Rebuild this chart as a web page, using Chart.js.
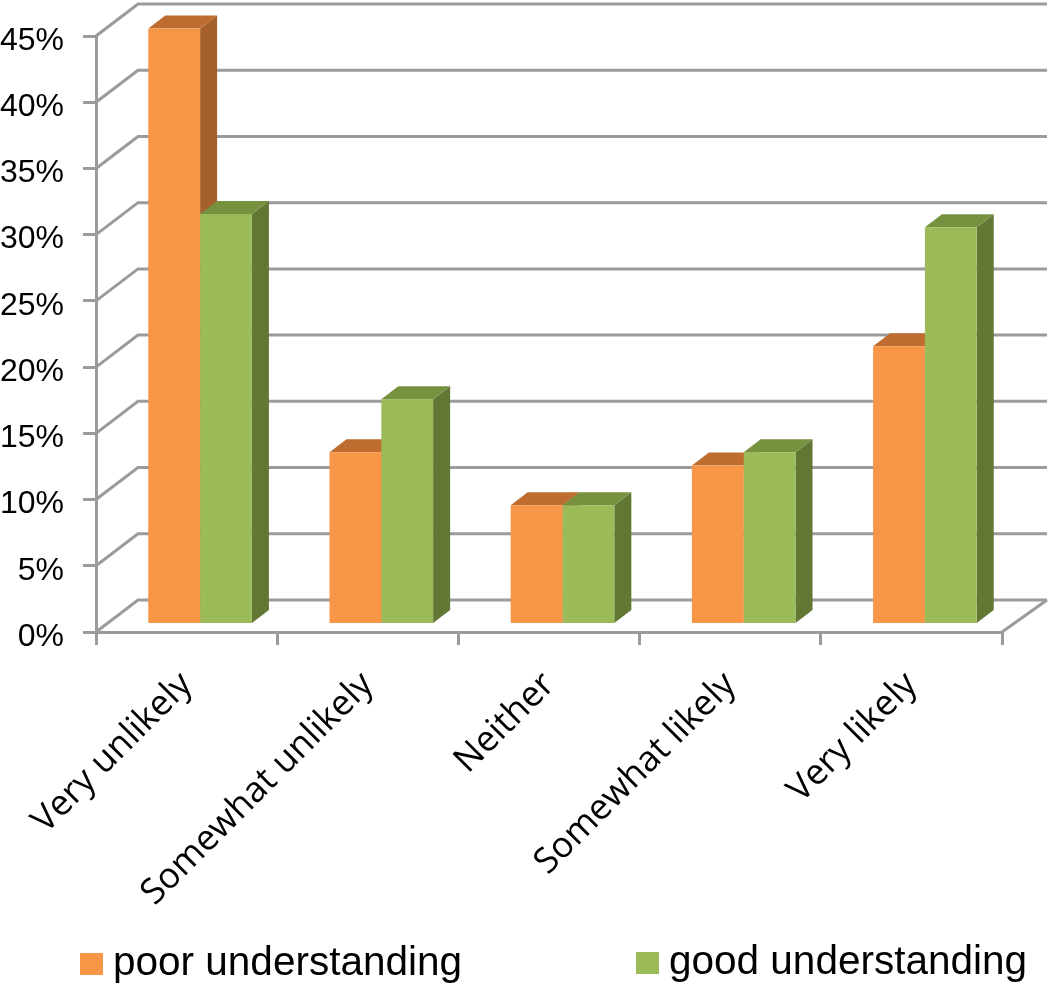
<!DOCTYPE html>
<html>
<head>
<meta charset="utf-8">
<style>html,body{margin:0;padding:0;background:#fff}canvas{display:block}</style>
<script src="https://cdn.jsdelivr.net/npm/chart.js@4"></script>
</head>
<body>
<canvas id="c" width="1050" height="985"></canvas>
<script>
const categories = ['Very unlikely','Somewhat unlikely','Neither','Somewhat likely','Very likely'];
const poorUnderstanding = [45,13,9,12,21];
const goodUnderstanding = [31,17,9,13,30];
const poorLabel = 'poor understanding';
const goodLabel = 'good understanding';

const GRID = '#9b9b9b';
const WALL = {dx:42, dy:-32};
const BAR_SHIFT = {dx:13.5, dy:-7.5};
const DEPTH = {dx:17, dy:-13};
const shades = [
  {front:'#F79646', top:'#BF6C30', side:'#A5602B'},
  {front:'#9BBB59', top:'#76923F', side:'#627734'}
];

const scene3d = {
  id:'scene3d',
  beforeDatasetsDraw(chart){
    const {ctx, scales:{x,y}} = chart;
    ctx.save();
    ctx.strokeStyle = GRID; ctx.lineWidth = 3; ctx.lineCap = 'butt'; ctx.lineJoin='miter';
    y.ticks.forEach(t=>{
      const py = y.getPixelForValue(t.value);
      ctx.beginPath();
      ctx.moveTo(x.left, py);
      ctx.lineTo(x.left+WALL.dx, py+WALL.dy);
      ctx.lineTo(x.right+WALL.dx+3, py+WALL.dy);
      ctx.stroke();
    });
    const y0 = y.getPixelForValue(0);
    ctx.beginPath();
    ctx.moveTo(x.right, y0);
    ctx.lineTo(x.right+WALL.dx+3, y0+WALL.dy);
    ctx.stroke();
    ctx.restore();

    ctx.save();
    ctx.translate(BAR_SHIFT.dx, BAR_SHIFT.dy);
    [0,1].forEach(di=>{
      const s = shades[di];
      chart.getDatasetMeta(di).data.forEach(b=>{
        const l=b.x-b.width/2, r=b.x+b.width/2, t=b.y, bt=b.base;
        ctx.fillStyle=s.side;
        ctx.beginPath();
        ctx.moveTo(r,t);ctx.lineTo(r+DEPTH.dx,t+DEPTH.dy);ctx.lineTo(r+DEPTH.dx,bt+DEPTH.dy);ctx.lineTo(r,bt);
        ctx.closePath();ctx.fill();
        ctx.fillStyle=s.top;
        ctx.beginPath();
        ctx.moveTo(l,t);ctx.lineTo(l+DEPTH.dx,t+DEPTH.dy);ctx.lineTo(r+DEPTH.dx,t+DEPTH.dy);ctx.lineTo(r,t);
        ctx.closePath();ctx.fill();
      });
    });
  },
  afterDatasetsDraw(chart){
    chart.ctx.restore();
  }
};

const legendItems = {
  id:'legendItems',
  afterDraw(chart){
    const {ctx} = chart;
    const at = [{bx:80,by:953,tx:113,ty:975},{bx:636,by:952,tx:669,ty:974}];
    ctx.save();
    ctx.font = '40.5px "Liberation Sans"';
    ctx.textBaseline='alphabetic';
    chart.data.datasets.forEach((d,i)=>{
      ctx.fillStyle=d.backgroundColor;
      ctx.fillRect(at[i].bx,at[i].by,23,22);
      ctx.fillStyle='#000';
      ctx.fillText(d.label,at[i].tx,at[i].ty);
    });
    ctx.restore();
  }
};

new Chart(document.getElementById('c'),{
  type:'bar',
  data:{
    labels:categories,
    datasets:[
      {label:poorLabel,data:poorUnderstanding,backgroundColor:shades[0].front,clip:false},
      {label:goodLabel,data:goodUnderstanding,backgroundColor:shades[1].front,clip:false}
    ]
  },
  options:{
    responsive:false,
    animation:false,
    devicePixelRatio:1,
    layout:{padding:{top:36,right:48,left:0,bottom:0}},
    datasets:{bar:{barPercentage:1,categoryPercentage:0.572,borderWidth:0}},
    plugins:{legend:{display:false},tooltip:{enabled:false},title:{display:false}},
    scales:{
      x:{
        afterFit(s){s.height=353;s.paddingLeft=0;s.paddingRight=0;},
        grid:{offset:true,drawOnChartArea:false,drawTicks:true,tickLength:13,color:GRID,lineWidth:3},
        border:{color:GRID,width:3},
        ticks:{
          autoSkip:false,minRotation:45,maxRotation:45,padding:19,color:'#000',
          font:{family:'"Open Sans"',size:35.5}
        }
      },
      y:{
        afterFit(s){s.width=96;s.paddingTop=0;s.paddingBottom=0;},
        min:0,max:45,
        grid:{drawOnChartArea:false,drawTicks:true,tickLength:13,color:GRID,lineWidth:3},
        border:{color:GRID,width:3},
        ticks:{
          stepSize:5,padding:19,color:'#000',labelOffset:5,
          font:{family:'"Liberation Sans"',size:32},
          callback:v=>v+'%'
        }
      }
    }
  },
  plugins:[scene3d,legendItems]
});
</script>
</body>
</html>
